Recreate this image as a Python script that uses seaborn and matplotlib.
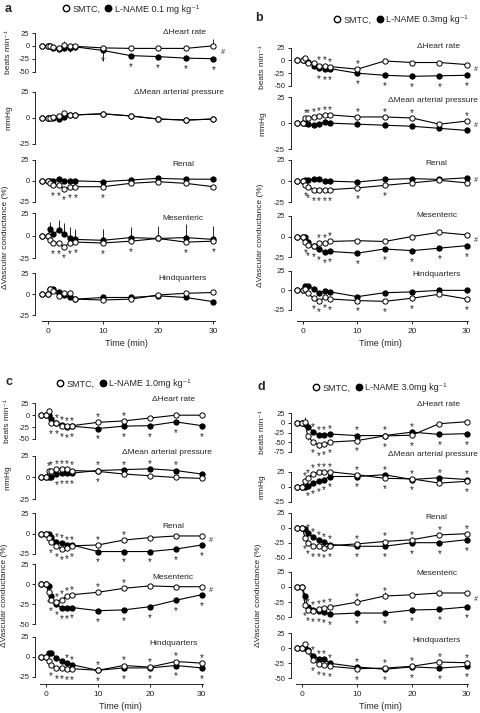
import matplotlib
matplotlib.use('Agg')
import matplotlib.pyplot as plt
from matplotlib.lines import Line2D
import seaborn as sns

sns.set_style('ticks')
plt.rcParams['font.family'] = ['Liberation Sans', 'DejaVu Sans']
plt.rcParams['axes.unicode_minus'] = False

# sample times (min) and row titles
t = [-1, 0, 0.5, 1, 2, 3, 4, 5, 10, 15, 20, 25, 30]
rows = ['\u0394Heart rate', '\u0394Mean arterial pressure', 'Renal', 'Mesenteric', 'Hindquarters']
doses = ['0.1 mg', '0.3mg', '1.0mg', '3.0mg']

# rows: heart rate, MAP, renal, mesenteric, hindquarters
a_smtc = [
    [0, 0, 0, -2, -5, 1, 0, -1, -4, -5, -5, -5, 0],
    [0, 0, 0, 1, 2, 5, 3, 3, 4, 2, -1, -2, -1],
    [0, 0, -3, -5, -5, -10, -7, -7, -7, -3, -1, -3, -7],
    [0, 0, -5, -8, -8, -12, -8, -7, -8, -6, -3, -7, -6],
    [0, 0, 6, 4, -2, 1, 1, -6, -7, -6, -1, 1, 2],
]
a_lname = [
    [0, 0, 0, -4, -7, -5, -4, -2, -9, -19, -21, -24, -25],
    [0, 0, 0, 0, -1, 1, 3, 3, 4, 2, -1, -2, -1],
    [0, 0, 0, 0, 2, 0, 0, 0, -1, 1, 3, 2, 2],
    [0, 0, 7, 2, 6, 2, -2, -4, -5, -2, -3, -2, -4],
    [0, 0, 6, 6, 3, -1, -4, -6, -4, -4, -2, -4, -9],
]
b_smtc = [
    [0, 0, 5, -5, -5, -10, -10, -12, -17, -1, -4, -4, -8],
    [0, 0, 5, 5, 6, 7, 8, 8, 6, 6, 5, -1, 2],
    [0, 0, -5, -7, -10, -10, -10, -10, -8, -5, -2, 1, -2],
    [0, 0, -7, -10, -12, -8, -8, -6, -5, -6, 0, 5, 2],
    [0, 0, 2, -4, -10, -14, -9, -11, -13, -14, -10, -5, -11],
]
b_lname = [
    [0, 0, 0, -3, -10, -14, -16, -16, -25, -29, -31, -30, -29],
    [0, 0, 0, -1, -2, -1, 1, 0, -1, -2, -3, -5, -7],
    [0, 0, 1, 1, 3, 2, 0, 0, -1, 2, 3, 2, 4],
    [0, 0, 0, -7, -12, -15, -19, -18, -20, -15, -17, -14, -11],
    [0, 0, 5, 5, 2, -3, -1, -2, -8, -3, -2, 0, 0],
]
c_smtc = [
    [0, 0, 8, -16, -17, -23, -23, -22, -15, -12, -6, 0, 0],
    [0, 0, 7, 8, 10, 10, 10, 8, 7, 4, 2, 0, -1],
    [0, 0, -5, -10, -15, -19, -18, -15, -14, -8, -5, -3, -3],
    [0, 0, -10, -20, -22, -19, -15, -13, -10, -5, -2, -3, -3],
    [0, 0, -5, -10, -14, -14, -15, -15, -17, -11, -13, -6, -8],
]
c_lname = [
    [0, 0, 0, -7, -17, -21, -24, -23, -28, -23, -22, -14, -22],
    [0, 0, 0, 1, 4, 5, 5, 5, 8, 9, 10, 8, 4],
    [0, 0, -1, -4, -10, -12, -14, -14, -22, -22, -22, -19, -14],
    [0, 0, -2, -14, -25, -30, -30, -29, -33, -32, -28, -20, -13],
    [0, 0, 5, 5, -2, -5, -8, -10, -17, -14, -14, -11, -14],
]
d_smtc = [
    [0, 0, 3, -35, -50, -57, -56, -50, -46, -34, -32, -2, 3],
    [0, 0, 10, 15, 22, 24, 25, 25, 20, 14, 13, 6, 9],
    [0, 0, -17, -25, -30, -31, -33, -30, -27, -23, -20, -12, -10],
    [0, 0, -30, -38, -39, -37, -35, -33, -25, -15, -13, -10, -10],
    [0, 0, 8, -5, -20, -26, -28, -30, -34, -33, -30, -23, -24],
]
d_lname = [
    [0, 0, -3, -10, -23, -32, -31, -29, -33, -33, -24, -30, -28],
    [0, 0, 0, 2, 6, 10, 12, 17, 17, 20, 12, 15, 12],
    [0, 0, -2, -9, -15, -21, -24, -28, -31, -31, -25, -25, -20],
    [0, 0, -15, -33, -38, -40, -42, -45, -43, -43, -38, -37, -33],
    [0, 0, 0, -3, -12, -18, -18, -25, -31, -35, -31, -33, -30],
]

# one-sided error bars (signed length), None = not drawn
a_err_smtc = [[0, 0, 0, 0, 0, 8, 0, 0, 0, 0, 0, 0, 14], None, None, None, None]
a_err_lname = [[0, 0, 0, 0, 0, -6, -8, -6, -20, 0, 0, 0, 0], None, None,
               [0, 0, 8, 0, 12, 12, 12, 12, 12, 12, 14, 15, 15], None]
c_err_smtc = [[0, 0, 8, 0, 0, 0, 0, 0, 0, 0, 0, 0, 0], None, None, None, None]
d_err_smtc = [[0, 0, 12, -10, -8, -8, -8, -6, 0, 0, 0, 0, 0], None, None,
              [0, 0, 0, 0, 0, 0, 0, 0, 7, 7, 0, 0, 0], None]

# significance marks: times with * above / below, rows with #
a_up = [[], [], [], [], []]
a_dn = [[10, 15, 20, 25, 30], [], [1, 2, 3, 4, 5, 10], [1, 2, 3, 4, 5, 10, 15, 25, 30], []]
a_hash = [0]
b_up = [[3, 4, 5, 10], [0.5, 1, 2, 3, 4, 5, 10, 15, 20, 30], [], [3, 4, 5], []]
b_dn = [[3, 4, 5, 10, 15, 20, 25, 30], [], [0.5, 1, 2, 3, 4, 5, 10, 15],
        [0.5, 1, 2, 3, 4, 5, 10, 15, 20, 25, 30], [2, 3, 4, 5, 10, 15, 20, 30]]
b_hash = [0, 1, 2, 3]
c_up = [[2, 3, 4, 5, 10, 15], [0.5, 1, 2, 3, 4, 5, 10, 15, 20, 25], [2, 3, 4, 5, 10, 15],
        [2, 3, 4, 5, 10, 15], [4, 5, 10, 15, 20, 25, 30]]
c_dn = [[1, 2, 3, 4, 5, 10, 15, 20, 25, 30], [2, 3, 4, 5, 10], [1, 2, 3, 4, 5, 10, 15, 20, 25, 30],
        [0.5, 1, 2, 3, 4, 5, 10, 15, 20, 25, 30], [1, 2, 3, 4, 5, 10, 15, 20, 25, 30]]
c_hash = [2, 3]
d_up = [[2, 3, 4, 5, 10, 15, 20], [0.5, 1, 2, 3, 4, 5, 10, 15, 20, 25, 30],
        [1, 2, 3, 4, 5, 10, 15, 20, 25, 30], [1, 2, 3, 4, 5, 10, 15], [2, 3, 4, 5, 10, 15, 20, 25, 30]]
d_dn = [[2, 3, 4, 5, 10, 15, 20, 25, 30], [1, 2, 3, 4, 5, 10, 15, 20, 30],
        [0.5, 1, 2, 3, 4, 5, 10, 15, 20, 25, 30], [0.5, 1, 2, 3, 4, 5, 10, 15, 20, 25, 30],
        [2, 3, 4, 5, 10, 15, 20, 25, 30]]
d_hash = [3]

yticks_ab = [[25, 0, -25, -50], [25, 0, -25], [25, 0, -25], [25, 0, -25], [25, 0, -25]]
yticks_c = [[25, 0, -25, -50], [25, 0, -25], [25, 0, -25], [25, 0, -25, -50], [25, 0, -25]]
yticks_d = [[25, 0, -25, -50, -75], [25, 0, -25], [25, 0, -25, -50], [25, 0, -25, -50], [25, 0, -25, -50]]

W, H = 480, 713
fig = plt.figure(figsize=(W / 100, H / 100), dpi=100)

# layout in pixels: letter, legend centre, row tick spans, x axis, x scale, spine, label x
panels = [
    dict(letter='a', smtc=a_smtc, lname=a_lname, es=a_err_smtc, el=a_err_lname, up=a_up, dn=a_dn, hs=a_hash,
         ticks=yticks_ab, lx=5, ly=9, legx=131, legy=9,
         rows=[(33, 71.5), (92, 144), (160, 201.7), (213.3, 258.3), (273.3, 315)],
         xaxis=320.7, x0=47.7, x30=213.3, spine=35, ylx=9,
         tdy=[1, -1, -4, -5, -5]),
    dict(letter='b', smtc=b_smtc, lname=b_lname, es=None, el=None, up=b_up, dn=b_dn, hs=b_hash,
         ticks=yticks_ab, lx=255, ly=18, legx=401, legy=20,
         rows=[(47.7, 86), (97.3, 149), (160, 202.3), (215.7, 257.3), (270.7, 310)],
         xaxis=321, x0=302.7, x30=466.7, spine=290.7, ylx=263,
         tdy=[1, -3, -4, 0, -4]),
    dict(letter='c', smtc=c_smtc, lname=c_lname, es=c_err_smtc, el=None, up=c_up, dn=c_dn, hs=c_hash,
         ticks=yticks_c, lx=5, ly=382, legx=124, legy=384,
         rows=[(403.3, 439), (455.7, 499.3), (513, 554), (564.3, 624.3), (636.7, 676.7)],
         xaxis=684.3, x0=46, x30=201.7, spine=35, ylx=8,
         tdy=[4, 3, -14, -13, -7]),
    dict(letter='d', smtc=d_smtc, lname=d_lname, es=d_err_smtc, el=None, up=d_up, dn=d_dn, hs=d_hash,
         ticks=yticks_d, lx=258, ly=387, legx=380, legy=388,
         rows=[(413.3, 451.7), (471.7, 501.7), (512.7, 557.7), (571.7, 617.3), (633.3, 678.3)],
         xaxis=684, x0=302.3, x30=466.7, spine=290.7, ylx=262,
         tdy=[9, 17, -5, -2, -7]),
]

FS = 5.5
title_x = [28.7, 32, 24.5, 24.5, 24.5]
title_ha = ['right', 'right', 'center', 'center', 'center']

for P, dose in zip(panels, doses):
    s = (P['x30'] - P['x0']) / 30
    xlo = (P['spine'] - P['x0']) / s
    xhi = 30.8
    right = P['x0'] + xhi * s
    for r in range(5):
        top, bot = P['rows'][r]
        ticks = P['ticks'][r]
        ax = fig.add_axes([P['spine'] / W, 1 - bot / H, (right - P['spine']) / W, (bot - top) / H])
        ax.patch.set_alpha(0)
        ax.set_xlim(xlo, xhi)
        ax.set_ylim(min(ticks), max(ticks))
        ax.set_yticks(ticks)
        ax.tick_params(axis='y', labelsize=FS, length=2.5, width=0.7, pad=1.5)
        for side in ['top', 'right']:
            ax.spines[side].set_visible(False)
        ax.spines['left'].set_linewidth(0.7)

        y_s, y_l = P['smtc'][r], P['lname'][r]
        sns.lineplot(x=t, y=y_l, ax=ax, color='black', marker='o', markersize=3.8,
                     markerfacecolor='black', markeredgecolor='black', markeredgewidth=0.7,
                     linewidth=0.8, clip_on=False, zorder=3, legend=False)
        sns.lineplot(x=t, y=y_s, ax=ax, color='black', marker='o', markersize=3.8,
                     markerfacecolor='white', markeredgecolor='black', markeredgewidth=0.7,
                     linewidth=0.8, clip_on=False, zorder=4, legend=False)

        for errs, vals in [(P['es'], y_s), (P['el'], y_l)]:
            if errs is None or errs[r] is None:
                continue
            for tt, v, e in zip(t, vals, errs[r]):
                if e:
                    ax.vlines(tt, v, v + e, color='black', linewidth=0.6, zorder=2, clip_on=False)

        for tt in P['up'][r]:
            i = t.index(tt)
            ax.annotate('*', xy=(tt, max(y_s[i], y_l[i])), xytext=(0, 5), textcoords='offset pixels',
                        ha='center', va='center', fontsize=7, annotation_clip=False)
        for tt in P['dn'][r]:
            i = t.index(tt)
            ax.annotate('*', xy=(tt, min(y_s[i], y_l[i])), xytext=(0, -11), textcoords='offset pixels',
                        ha='center', va='center', fontsize=7, annotation_clip=False)
        if r in P['hs']:
            ax.annotate('#', xy=(30, (y_s[-1] + y_l[-1]) / 2), xytext=(9, 0), textcoords='offset pixels',
                        ha='center', va='center', fontsize=5, style='italic', annotation_clip=False)

        ax.annotate(rows[r], xy=(title_x[r], 1), xycoords=('data', 'axes fraction'),
                    xytext=(0, P['tdy'][r]), textcoords='offset pixels',
                    ha=title_ha[r], va='center', fontsize=6, annotation_clip=False)

        if r < 4:
            ax.spines['bottom'].set_visible(False)
            ax.set_xticks([])
        else:
            ax.spines['bottom'].set_position(('outward', (P['xaxis'] - bot) * 0.72))
            ax.spines['bottom'].set_bounds(-1.1, 30.3)
            ax.spines['bottom'].set_linewidth(0.7)
            ax.set_xticks([0, 10, 20, 30])
            ax.tick_params(axis='x', labelsize=FS + 0.5, length=2, width=0.7, pad=3)
            ax.set_xlabel('Time (min)', fontsize=6.5, labelpad=3)

    # y axis labels
    hr_c = sum(P['rows'][0]) / 2
    map_c = sum(P['rows'][1]) / 2
    vc_c = (P['rows'][2][0] + P['rows'][4][1]) / 2
    fig.text(P['ylx'] / W, 1 - hr_c / H, 'beats min\u207b\u00b9', rotation=90, ha='center', va='center', fontsize=6)
    fig.text(P['ylx'] / W, 1 - map_c / H, 'mmHg', rotation=90, ha='center', va='center', fontsize=6)
    fig.text((P['ylx'] - 3) / W, 1 - vc_c / H, '\u0394Vascular conductance (%)', rotation=90,
             ha='center', va='center', fontsize=6)

    fig.text(P['lx'] / W, 1 - P['ly'] / H, P['letter'], ha='left', va='center', fontsize=9, fontweight='bold')
    handles = [Line2D([], [], linestyle='', marker='o', markersize=4.6, markerfacecolor='white',
                      markeredgecolor='black', markeredgewidth=1.0),
               Line2D([], [], linestyle='', marker='o', markersize=4.6, markerfacecolor='black',
                      markeredgecolor='black')]
    fig.legend(handles, ['SMTC,', 'L-NAME ' + dose + ' kg\u207b\u00b9'], loc='center',
               bbox_to_anchor=(P['legx'] / W, 1 - P['legy'] / H), ncol=2, frameon=False,
               fontsize=6.5, handlelength=0.6, handletextpad=0.45, columnspacing=0.6,
               borderpad=0, borderaxespad=0)

fig.savefig('out.png', dpi=100)
